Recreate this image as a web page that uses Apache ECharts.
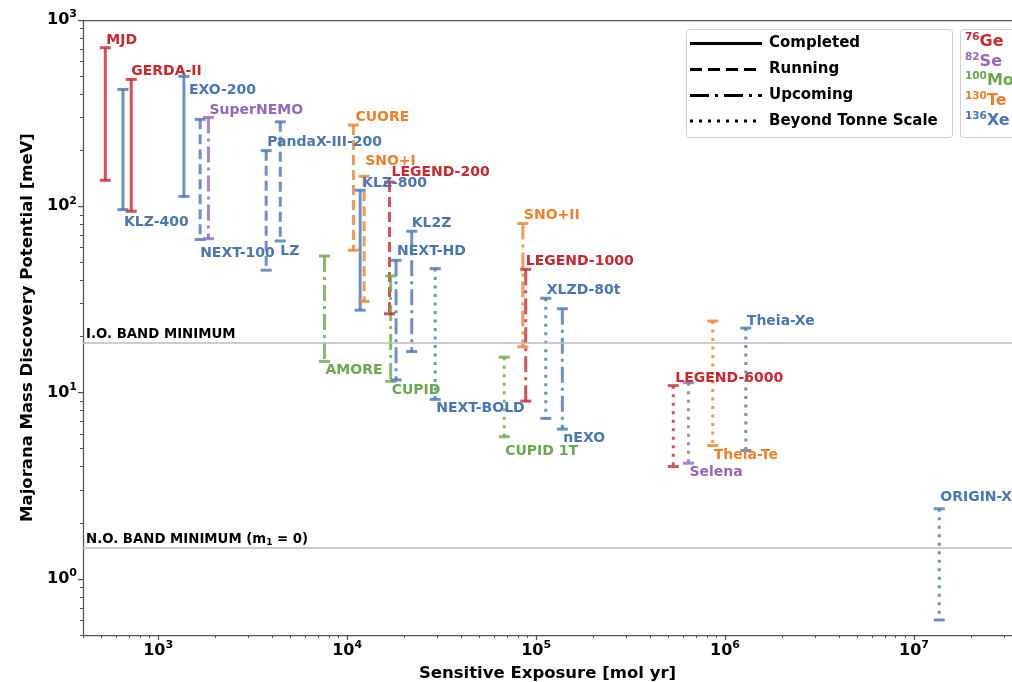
<!DOCTYPE html>
<html><head><meta charset="utf-8">
<script src="https://cdn.jsdelivr.net/npm/echarts@6/dist/echarts.min.js"></script>
<style>html,body{margin:0;padding:0;background:#fff}#c{width:1012px;height:682px}</style>
</head><body><div id="c"></div>
<script>
// ---- data ----
const names = ['MJD','KLZ-400','GERDA-II','EXO-200','NEXT-100','SuperNEMO','PandaX-III-200','LZ','CUORE','SNO+I','KLZ-800','LEGEND-200','AMORE','CUPID','NEXT-HD','KL2Z','NEXT-BOLD','SNO+II','LEGEND-1000','CUPID 1T','XLZD-80t','nEXO','LEGEND-6000','Selena','Theia-Te','Theia-Xe','ORIGIN-X'];
const isotopes = ['Ge','Xe','Ge','Xe','Xe','Se','Xe','Xe','Te','Te','Xe','Ge','Mo','Mo','Xe','Xe','Xe','Te','Ge','Mo','Xe','Xe','Ge','Se','Te','Xe','Xe'];
const statuses = ['Completed','Completed','Completed','Completed','Running','Upcoming','Running','Running','Running','Running','Completed','Running','Upcoming','Upcoming','Upcoming','Upcoming','Beyond Tonne Scale','Upcoming','Upcoming','Beyond Tonne Scale','Beyond Tonne Scale','Upcoming','Beyond Tonne Scale','Beyond Tonne Scale','Beyond Tonne Scale','Beyond Tonne Scale','Beyond Tonne Scale'];
const exposure = [525,651,720,1368,1667,1845,3727,4426,10790,12300,11720,16750,7590,17000,18150,21970,29240,85100,88100,67800,112500,137700,532000,640000,861000,1288000,13600000];
const upper = [710,424,480,498,293,300,199,284,273,145,122,135,54.1,42.3,51.3,73.5,46.3,80.9,45.9,15.5,32.1,28.2,10.9,11.3,24.2,22.2,2.38];
const lower = [138,96,94,113,66.3,67,45.4,65.2,58.1,30.9,27.7,26.5,14.7,11.5,11.7,16.6,9.2,17.6,9.0,5.8,7.27,6.37,4.01,4.18,5.2,4.89,0.602];
const xTicks = [1e3,1e4,1e5,1e6,1e7];
const yTicks = [1,10,100,1000];
const ioBandMin = 18.6;
const noBandMin = 1.47;
const statusNames = ['Completed','Running','Upcoming','Beyond Tonne Scale'];
const isotopeNames = ['Ge','Se','Mo','Te','Xe'];
const massNumbers = ['76','82','100','130','136'];

// ---- styles ----
const isoColor = {Ge:'#c8282e', Se:'#9467bd', Mo:'#6aa84f', Te:'#ee7f2d', Xe:'#4a76b6'};
const dashOf = {'Completed':'solid','Running':[10,5],'Upcoming':[16,5,3,5],'Beyond Tonne Scale':[3,5.5]};
const legendDash = {'Completed':null,'Running':[12,6],'Upcoming':[19,6,3,6],'Beyond Tonne Scale':[3,6]};
// label placement: end ('t' top cap / 'b' bottom cap), pixel offset from cap
const labelPlace = [
 ['t',1,-8],['b',1,12],['t',0,-9],['t',5,13],['b',0,13],['t',1,-8],['t',1,-9],['b',0,9],
 ['t',2,-9],['t',1,-16],['t',2,-8],['t',2,-11],['b',1,8],['b',1,8],['t',1,-10],['t',0,-9],
 ['b',1,8],['t',1,-9],['t',0,-9],['b',1,14],['t',1,-9],['b',1,8],['t',2,-8],['b',1,8],
 ['b',1,9],['t',1,-8],['t',1,-12]
];
const FONT = 'DejaVu Sans';
function rgba(hex, a){const n=parseInt(hex.slice(1),16);return 'rgba('+(n>>16)+','+((n>>8)&255)+','+(n&255)+','+a+')';}

const minorX = [], minorY = [];
for (let e = 2; e <= 7; e++) for (let m = 2; m <= 9; m++) minorX.push(m*Math.pow(10,e));
for (let e = -1; e <= 2; e++) for (let m = 2; m <= 9; m++) minorY.push(m*Math.pow(10,e));

const supRich = {
  b:{fontSize:16,fontWeight:'bold',fontFamily:FONT,color:'#000',lineHeight:22},
  s:{fontSize:11,fontWeight:'bold',fontFamily:FONT,color:'#000',verticalAlign:'top',lineHeight:22,padding:[0,0,6,0]}
};
function powFmt(v){const e=Math.round(Math.log10(v));return '{b|10}{s|'+e+'}';}

const XMIN=400, XMAX=3.3e7, YMIN=0.5, YMAX=1000;
const axisCol = '#555';

const series = names.map((n,i)=>{
  const col = isoColor[isotopes[i]];
  const pl = labelPlace[i];
  const lab = {show:true, position:'inside', align:'left', verticalAlign:'middle',
    offset:[pl[1], pl[2]+1], formatter:n, color:col, fontFamily:FONT, fontWeight:'bold', fontSize:14};
  return {
    type:'line', name:n, silent:true, animation:false,
    symbol:'rect', symbolSize:[11,3], showSymbol:true,
    lineStyle:{color:rgba(col,0.8), width:3, type:dashOf[statuses[i]], cap:'butt'},
    itemStyle:{color:rgba(col,0.8)},
    emphasis:{disabled:true},
    data:[
      {value:[exposure[i], upper[i]], label: pl[0]==='t'? lab : {show:false}},
      {value:[exposure[i], lower[i]], label: pl[0]==='b'? lab : {show:false}}
    ],
    z: 3
  };
});
series.push({
  type:'line', data:[], silent:true, animation:false,
  markLine:{symbol:'none', silent:true, animation:false,
    lineStyle:{color:'#bdbdbd', width:1.5, type:'solid'},
    label:{position:'insideStartTop', distance:[3,1], color:'#000', fontFamily:FONT, fontWeight:'bold', fontSize:13.3,
      rich:{t:{fontFamily:FONT,fontWeight:'bold',fontSize:13.3,color:'#000'}, sub:{fontFamily:FONT,fontWeight:'bold',fontSize:9,color:'#000',verticalAlign:'bottom',padding:[6,0,0,0]}}},
    data:[
      {yAxis:ioBandMin, label:{formatter:'I.O. BAND MINIMUM'}},
      {yAxis:noBandMin, label:{formatter:'{t|N.O. BAND MINIMUM (m}{sub|1}{t| = 0)}'}}
    ]}
});

const chart = echarts.init(document.getElementById('c'), null, {renderer:'canvas'});
chart.setOption({
  animation:false,
  textStyle:{fontFamily:FONT},
  grid:{left:83, top:20, width:929, height:615, containLabel:false, outerBoundsMode:'none'},
  xAxis:[
    {type:'log', logBase:10, min:XMIN, max:XMAX, name:'Sensitive Exposure [mol yr]', nameLocation:'middle', nameGap:30,
     nameTextStyle:{fontFamily:FONT, fontWeight:'bold', fontSize:16.5, color:'#000'},
     axisLine:{show:true, lineStyle:{color:axisCol, width:1.25}},
     axisTick:{show:true, length:5, customValues:xTicks, lineStyle:{color:axisCol, width:1.25}},
     axisLabel:{customValues:xTicks, formatter:powFmt, rich:supRich, margin:5},
     splitLine:{show:false}},
    {type:'log', logBase:10, min:XMIN, max:XMAX, position:'bottom', gridIndex:0,
     axisLine:{show:false}, axisTick:{show:true, length:3, customValues:minorX, lineStyle:{color:axisCol, width:1}},
     axisLabel:{show:false}, splitLine:{show:false}},
    {type:'log', logBase:10, min:XMIN, max:XMAX, position:'top', gridIndex:0,
     axisLine:{show:true, lineStyle:{color:axisCol, width:1.25}}, axisTick:{show:false}, axisLabel:{show:false}, splitLine:{show:false}}
  ],
  yAxis:[
    {type:'log', logBase:10, min:YMIN, max:YMAX, name:'Majorana Mass Discovery Potential [meV]', nameLocation:'middle', nameGap:47,
     nameTextStyle:{fontFamily:FONT, fontWeight:'bold', fontSize:16.5, color:'#000'},
     axisLine:{show:true, lineStyle:{color:axisCol, width:1.25}},
     axisTick:{show:true, length:5, customValues:yTicks, lineStyle:{color:axisCol, width:1.25}},
     axisLabel:{customValues:yTicks, formatter:powFmt, rich:supRich, margin:6},
     splitLine:{show:false}},
    {type:'log', logBase:10, min:YMIN, max:YMAX, position:'left', gridIndex:0,
     axisLine:{show:false}, axisTick:{show:true, length:3, customValues:minorY, lineStyle:{color:axisCol, width:1}},
     axisLabel:{show:false}, splitLine:{show:false}}
  ],
  series: series,
  graphic:(function(){
    const g = [];
    g.push({type:'rect', z:100, shape:{x:686.5,y:29.5,width:266,height:108,r:3}, style:{fill:'rgba(255,255,255,0.9)', stroke:'#d0d0d0', lineWidth:1}});
    const rowsY=[43.5,69.5,95.5,121];
    statusNames.forEach((s,k)=>{
      g.push({type:'line', z:101, shape:{x1:690,y1:rowsY[k],x2:762,y2:rowsY[k]}, style:{stroke:'#000', lineWidth:3, lineDash:legendDash[s], lineCap:'butt'}});
      g.push({type:'text', z:101, style:{x:769, y:rowsY[k], text:s, fill:'#000', font:'bold 15px "DejaVu Sans"', verticalAlign:'middle', textAlign:'left'}});
    });
    g.push({type:'rect', z:100, shape:{x:960.5,y:29.5,width:80,height:108,r:3}, style:{fill:'rgba(255,255,255,0.9)', stroke:'#d0d0d0', lineWidth:1}});
    const isoY=[42,61.5,81,101,121];
    isotopeNames.forEach((iso,k)=>{
      const c = isoColor[iso];
      g.push({type:'text', z:101, style:{x:965, y:isoY[k], text:'{s|'+massNumbers[k]+'}{b|'+iso+'}', verticalAlign:'middle', textAlign:'left',
        rich:{s:{fontSize:10.5, fontWeight:'bold', fontFamily:FONT, fill:c, verticalAlign:'top', lineHeight:20, padding:[0,0,6,0]},
              b:{fontSize:16, fontWeight:'bold', fontFamily:FONT, fill:c, lineHeight:20}}}});
    });
    return g;
  })()
});
</script></body></html>
